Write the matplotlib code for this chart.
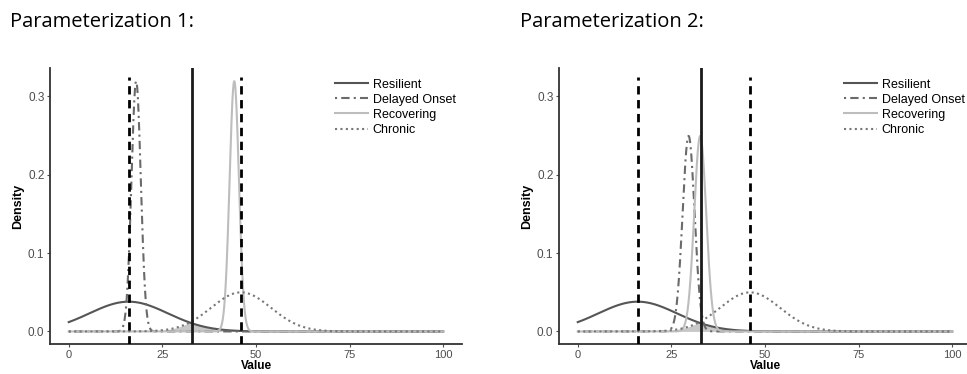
import numpy as np
import matplotlib
matplotlib.use("Agg")
from matplotlib import pyplot as plt
from matplotlib.lines import Line2D

# Class-specific normal densities (mean, sd) per parameterization
classes = ["Resilient", "Delayed Onset", "Recovering", "Chronic"]
means_p1 = [16.0, 18.0, 44.2, 46.0]
sds_p1 = [10.5, 1.25, 1.25, 8.0]
means_p2 = [16.0, 29.6, 32.7, 46.0]
sds_p2 = [10.5, 1.6, 1.6, 8.0]
# Reference lines
dashed_refs = [16, 46]
solid_ref = 33
titles = ["Parameterization 1:", "Parameterization 2:"]
x_ticks = [0, 25, 50, 75, 100]
y_ticks = [0.0, 0.1, 0.2, 0.3]

colors = ["#555555", "#6a6a6a", "#bdbdbd", "#777777"]
styles = ["-", (0, (1, 2, 4, 2)), "-", (0, (1, 1.6))]

plt.rcParams["font.family"] = ["Liberation Sans", "DejaVu Sans"]

fig = plt.figure(figsize=(9.67, 3.74), dpi=100)
W, H = 967, 374


def dnorm(x, m, s):
    return np.exp(-0.5 * ((x - m) / s) ** 2) / (s * np.sqrt(2 * np.pi))


x = np.linspace(0, 100, 2001)
panels = [(means_p1, sds_p1, 50, 10), (means_p2, sds_p2, 559, 520)]
for (means, sds, left_px, title_px), title in zip(panels, titles):
    ax = fig.add_axes([left_px / W, (374 - 344) / H, 412 / W, 276 / H])
    dens = np.array([dnorm(x, m, s) for m, s in zip(means, sds)])
    # shaded overlap of the Resilient and Chronic densities
    overlap = np.minimum(dens[0], dens[3])
    ax.fill_between(x, 0, overlap, color="#bbbbbb", alpha=0.8, lw=0, zorder=1)
    for d, c, ls in zip(dens, colors, styles):
        ax.plot(x, d, color=c, ls=ls, lw=1.5, zorder=2)
    for v in dashed_refs:
        ax.axvline(v, color="black", ls=(0, (3, 2)), lw=2.0, ymin=0, ymax=0.968, zorder=3)
    ax.axvline(solid_ref, color="#1a1a1a", ls="-", lw=2.0, zorder=3)

    ax.set_xlim(-5, 105)
    ax.set_ylim(-0.016, 0.336)
    ax.set_xticks(x_ticks)
    ax.set_yticks(y_ticks)
    ax.set_yticklabels([f"{t:.1f}" for t in y_ticks])
    for s in ["top", "right"]:
        ax.spines[s].set_visible(False)
    for s in ["left", "bottom"]:
        ax.spines[s].set_linewidth(1.3)
        ax.spines[s].set_color("#333333")
    ax.tick_params(colors="#4d4d4d", labelsize=8.5, length=2.5, width=0.8, pad=1.5)
    ax.tick_params(axis="x", labelsize=8)
    ax.set_xlabel("Value", fontweight="bold", fontsize=8.5, labelpad=0.5)
    ax.set_ylabel("Density", fontweight="bold", fontsize=9, labelpad=3)

    handles = [Line2D([], [], color=c, ls=ls, lw=1.5) for c, ls in zip(colors, styles)]
    ax.legend(handles, classes, loc="upper left", bbox_to_anchor=(0.68, 0.98),
              frameon=False, fontsize=9, handlelength=2.6, handletextpad=0.4,
              labelspacing=0.25, borderaxespad=0)

    fig.text(title_px / W, 1 - 22 / H, title, family=["Open Sans", "DejaVu Sans"],
             fontsize=14.5, va="center", ha="left")

fig.savefig("out.png", dpi=100)
